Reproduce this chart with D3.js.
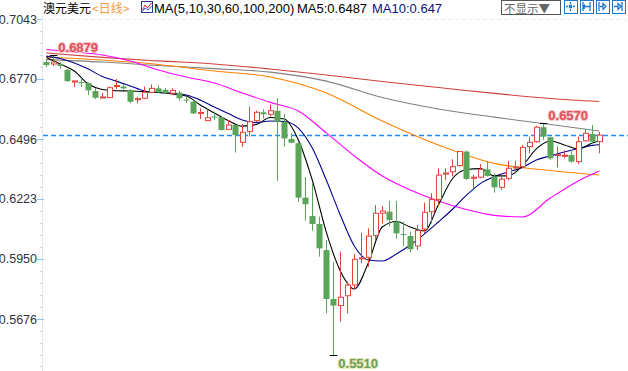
<!DOCTYPE html>
<html>
<head>
<meta charset="utf-8">
<script src="https://cdn.jsdelivr.net/npm/d3@7/dist/d3.min.js"></script>
<style>
    body { margin: 0; background: #fff; }
    svg { display: block; font-family: "Liberation Sans", Arial, sans-serif; }
</style>
</head>
<body>
<div class="main"></div>
<script>
// daily candles
const opens = [0.6847,0.6838,0.6838,0.6811,0.6756,0.6756,0.6751,0.6715,0.6683,0.6685,
    0.6736,0.6735,0.6720,0.6676,0.6682,0.6709,0.6727,0.6720,0.6705,0.6707,
    0.6676,0.6666,0.6612,0.6580,0.6599,0.6596,0.6540,0.6560,0.6481,0.6530,
    0.6580,0.6618,0.6609,0.6625,0.6575,0.6496,0.6477,0.6229,0.6145,0.6109,
    0.5990,0.5767,0.5737,0.5782,0.5831,0.5950,0.5957,0.6057,0.6158,0.6165,
    0.6119,0.6063,0.6054,0.6009,0.6086,0.6165,0.6221,0.6339,0.6347,0.6375,
    0.6439,0.6317,0.6322,0.6358,0.6325,0.6276,0.6317,0.6364,0.6370,0.6461,
    0.6484,0.6550,0.6504,0.6421,0.6420,0.6423,0.6393,0.6488,0.6519,0.6484];
const highs = [0.6861,0.6879,0.6847,0.6815,0.6761,0.6774,0.6753,0.6729,0.6706,0.6735,
    0.6770,0.6747,0.6723,0.6689,0.6735,0.6745,0.6742,0.6729,0.6728,0.6716,
    0.6689,0.6674,0.6637,0.6632,0.6621,0.6599,0.6583,0.6562,0.6565,0.6643,
    0.6625,0.6632,0.6654,0.6682,0.6610,0.6522,0.6484,0.6323,0.6297,0.6142,
    0.6036,0.5936,0.5983,0.5846,0.5972,0.6069,0.6089,0.6195,0.6191,0.6214,
    0.6214,0.6119,0.6074,0.6104,0.6206,0.6249,0.6363,0.6363,0.6404,0.6443,
    0.6443,0.6332,0.6382,0.6397,0.6340,0.6332,0.6397,0.6397,0.6469,0.6507,
    0.6556,0.6570,0.6507,0.6461,0.6446,0.6446,0.6507,0.6540,0.6560,0.6529];
const lows = [0.6824,0.6829,0.6815,0.6756,0.6733,0.6733,0.6697,0.6678,0.6681,0.6682,
    0.6724,0.6722,0.6659,0.6659,0.6678,0.6705,0.6705,0.6702,0.6704,0.6671,
    0.6659,0.6609,0.6587,0.6580,0.6583,0.6535,0.6537,0.6434,0.6460,0.6507,
    0.6575,0.6589,0.6598,0.6305,0.6461,0.6477,0.6211,0.6124,0.6078,0.5960,
    0.5702,0.5510,0.5664,0.5702,0.5811,0.5930,0.5914,0.6036,0.6112,0.6097,
    0.6041,0.6009,0.5979,0.5990,0.6067,0.6112,0.6195,0.6309,0.6325,0.6370,
    0.6309,0.6264,0.6317,0.6325,0.6252,0.6264,0.6309,0.6340,0.6363,0.6431,
    0.6479,0.6492,0.6401,0.6367,0.6410,0.6388,0.6382,0.6484,0.6477,0.6431];
const closes = [0.6833,0.6847,0.6829,0.6760,0.6761,0.6751,0.6718,0.6684,0.6688,0.6730,
    0.6740,0.6727,0.6666,0.6680,0.6709,0.6727,0.6709,0.6705,0.6717,0.6682,
    0.6672,0.6613,0.6617,0.6593,0.6594,0.6537,0.6560,0.6514,0.6527,0.6575,
    0.6618,0.6609,0.6625,0.6575,0.6499,0.6479,0.6229,0.6199,0.6109,0.5998,
    0.5767,0.5737,0.5775,0.5831,0.5948,0.5955,0.6054,0.6158,0.6168,0.6127,
    0.6066,0.6060,0.5994,0.6079,0.6162,0.6221,0.6332,0.6341,0.6370,0.6439,
    0.6314,0.6322,0.6358,0.6328,0.6276,0.6313,0.6363,0.6369,0.6458,0.6481,
    0.6550,0.6507,0.6408,0.6425,0.6422,0.6393,0.6484,0.6522,0.6484,0.6514];

const fastIdx = d3.range(0, 80, 2).concat([79]);
const ma5 = [0.6868,0.6838,0.6806,0.6747,0.6722,0.6716,0.6715,0.6712,0.6708,0.6701,
    0.6692,0.6651,0.6615,0.6580,0.6555,0.6562,0.6594,0.6587,0.6492,0.6309,
    0.6072,0.5895,0.5813,0.5931,0.6095,0.6120,0.6095,0.6077,0.6195,0.6314,
    0.6357,0.6361,0.6328,0.6328,0.6373,0.6451,0.6487,0.6469,0.6451,0.6478,0.6487];
const ma10 = [0.6874,0.6863,0.6843,0.6815,0.6781,0.6760,0.6738,0.6715,0.6708,0.6706,
    0.6697,0.6674,0.6642,0.6612,0.6583,0.6571,0.6578,0.6576,0.6546,0.6455,
    0.6309,0.6150,0.6009,0.5945,0.5940,0.5972,0.6013,0.6063,0.6118,0.6175,
    0.6239,0.6293,0.6325,0.6346,0.6366,0.6401,0.6419,0.6437,0.6453,0.6467,0.6470];
const ma30Idx = d3.range(0, 80, 4).concat([79]);
const ma30 = [0.6904,0.6893,0.6879,0.6852,0.6811,0.6779,0.6751,0.6706,0.6663,0.6624,
    0.6524,0.6419,0.6328,0.6264,0.6214,0.6175,0.6148,0.6141,0.6227,0.6305,0.6350];
const slowIdx = [0, 8, 16, 24, 32, 40, 48, 56, 64, 72, 79];
const ma60 = [0.6870,0.6856,0.6836,0.6806,0.6779,0.6706,0.6578,0.6469,0.6385,0.6353,0.6332];
const ma100 = [0.6858,0.6847,0.6831,0.6817,0.6801,0.6760,0.6685,0.6633,0.6596,0.6562,0.6533];
const ma200 = [0.6888,0.6868,0.6852,0.6838,0.6815,0.6788,0.6758,0.6731,0.6704,0.6681,0.6667];

const yTicks = [0.7043, 0.6770, 0.6496, 0.6223, 0.5950, 0.5676];
const title = "澳元美元";
const period = "<日线>";
const maTitle = "MA(5,10,30,60,100,200)";
const ma5Label = "MA5:0.6487";
const ma10Label = "MA10:0.647";

const w = 628;
const h = 371;
const red = "#e0443c";
const green = "#5aa55a";

const svg = d3.select(".main").append("svg").attr("width", w).attr("height", h);

const xScale = d3.scaleLinear().domain([0, 79]).range([46.3, 599.3]);
const yScale = d3.scaleLinear().domain([0.5676, 0.7043]).range([319, 19]);

// y axis: line, major and minor ticks
svg.append("line")
    .attr("x1", 42.5).attr("x2", 42.5).attr("y1", 16).attr("y2", h)
    .attr("stroke", "#e3e7ee");

const step = (yTicks[0] - yTicks[1]) / 5;
const minor = d3.range(-3, 31).map((k) => yTicks[0] - k * step);
svg.append("g").selectAll("line")
    .data(minor.filter((v) => yScale(v) > 14 && yScale(v) < h))
    .enter().append("line")
    .attr("x1", 40.5).attr("x2", 42.5)
    .attr("y1", (d) => Math.round(yScale(d)) + 0.5)
    .attr("y2", (d) => Math.round(yScale(d)) + 0.5)
    .attr("stroke", "#c4c8d0");

const yAxis = svg.append("g");
yAxis.selectAll("line")
    .data(yTicks).enter().append("line")
    .attr("x1", 37).attr("x2", 44)
    .attr("y1", (d) => Math.round(yScale(d)) + 0.5)
    .attr("y2", (d) => Math.round(yScale(d)) + 0.5)
    .attr("stroke", "#9cc4e8");
yAxis.selectAll("text")
    .data(yTicks).enter().append("text")
    .attr("x", 37).attr("y", (d) => yScale(d) + 4.5)
    .attr("text-anchor", "end")
    .attr("font-size", 12.5)
    .attr("fill", "#333344")
    .text((d) => d.toFixed(4));

// top separator
svg.append("line")
    .attr("x1", 42).attr("x2", w).attr("y1", 19.5).attr("y2", 19.5)
    .attr("stroke", "#ececec").attr("stroke-dasharray", "4,3");

// last price line
svg.append("line")
    .attr("x1", 43).attr("x2", w)
    .attr("y1", Math.round(yScale(closes[79])) + 0.5)
    .attr("y2", Math.round(yScale(closes[79])) + 0.5)
    .attr("stroke", "#1e8cff").attr("stroke-width", 1.5)
    .attr("stroke-dasharray", "5,3");

// moving average lines
const line = d3.line()
    .x((d) => xScale(d[0]))
    .y((d) => yScale(d[1]))
    .curve(d3.curveMonotoneX);

const maSeries = [
    { idx: slowIdx, vals: ma200, color: "#d0403c" },
    { idx: slowIdx, vals: ma100, color: "#808080" },
    { idx: slowIdx, vals: ma60, color: "#ff8000" },
    { idx: ma30Idx, vals: ma30, color: "#ff00ff" },
    { idx: fastIdx, vals: ma10, color: "#00008b" },
    { idx: fastIdx, vals: ma5, color: "#000000" },
];
svg.append("g").selectAll("path")
    .data(maSeries).enter().append("path")
    .attr("d", (s) => line(s.idx.map((i, k) => [i, s.vals[k]])))
    .attr("fill", "none")
    .attr("stroke", (s) => s.color)
    .attr("stroke-width", 1.1);

// candles
const candles = opens.map((o, i) => ({ i, o, hi: highs[i], lo: lows[i], c: closes[i] }));
const cg = svg.append("g").selectAll("g").data(candles).enter().append("g");

cg.append("line")
    .attr("x1", (d) => Math.round(xScale(d.i)) + 0.5)
    .attr("x2", (d) => Math.round(xScale(d.i)) + 0.5)
    .attr("y1", (d) => yScale(d.hi))
    .attr("y2", (d) => yScale(d.lo))
    .attr("stroke", (d) => (d.c >= d.o ? red : green));

cg.append("rect")
    .attr("x", (d) => Math.round(xScale(d.i)) - 2 + (d.c >= d.o ? 0.5 : -0.5))
    .attr("width", (d) => (d.c >= d.o ? 5 : 6))
    .attr("y", (d) => yScale(Math.max(d.o, d.c)))
    .attr("height", (d) => Math.max(1, yScale(Math.min(d.o, d.c)) - yScale(Math.max(d.o, d.c))))
    .attr("fill", (d) => (d.c >= d.o ? "#fff" : green))
    .attr("stroke", (d) => (d.c >= d.o ? red : "none"));

// high / low markers
const marks = [
    { i: 1, v: highs[1], up: true, color: "#e0505a", halo: "#f8c8c8" },
    { i: 71, v: highs[71], up: true, color: "#e0505a", halo: "#f8c8c8" },
    { i: 41, v: lows[41], up: false, color: "#6e9e5e", halo: "#e8e8b0" },
];
const mg = svg.append("g").selectAll("g").data(marks).enter().append("g");
mg.append("line")
    .attr("x1", (d) => xScale(d.i) - 3.5)
    .attr("x2", (d) => xScale(d.i) + 4)
    .attr("y1", (d) => Math.round(yScale(d.v)) + 0.5)
    .attr("y2", (d) => Math.round(yScale(d.v)) + 0.5)
    .attr("stroke", "#000");
mg.append("text")
    .attr("x", (d) => xScale(d.i) + 5)
    .attr("y", (d) => (d.up ? yScale(d.v) - 3 : yScale(d.v) + 13))
    .attr("font-size", 13)
    .attr("font-weight", "bold")
    .attr("fill", (d) => d.color)
    .attr("stroke", (d) => d.halo)
    .attr("stroke-width", 2)
    .attr("paint-order", "stroke")
    .text((d) => d.v.toFixed(4));

// header
const head = svg.append("g").attr("font-size", 13);
head.append("rect").attr("x", 42).attr("y", 0).attr("width", 460).attr("height", 15).attr("fill", "#fff");
head.append("text").attr("x", 43).attr("y", 12.5).attr("font-size", 12)
    .attr("font-family", "'Noto Sans CJK SC', sans-serif").attr("fill", "#000").text(title);
head.append("text").attr("x", 92).attr("y", 12.5).attr("font-size", 12)
    .attr("font-family", "'Noto Sans CJK SC', sans-serif").attr("fill", "#f59a3c").text(period);

const icon = head.append("g").attr("transform", "translate(141,1)");
icon.append("rect").attr("x", 0.5).attr("y", 0.5).attr("width", 11).attr("height", 11)
    .attr("fill", "#fff").attr("stroke", "#2a3a8a");
icon.append("path").attr("d", "M1.5,9 L4,4 L6.5,7 L10.5,2").attr("fill", "none").attr("stroke", "#d03030");
icon.append("path").attr("d", "M1.5,10.5 L4,7 L7,9 L10.5,5").attr("fill", "none").attr("stroke", "#3050d0");

head.append("text").attr("x", 154).attr("y", 12.5).attr("fill", "#000").text(maTitle);
head.append("text").attr("x", 297).attr("y", 12.5).attr("fill", "#000").text(ma5Label);
head.append("text").attr("x", 372).attr("y", 12.5).attr("fill", "#10107a").text(ma10Label);

// right hand controls
const ctl = svg.append("g");
ctl.append("rect").attr("x", 501.5).attr("y", 0.5).attr("width", 59).attr("height", 14)
    .attr("fill", "#fff").attr("stroke", "#555");
ctl.append("text").attr("x", 504).attr("y", 12.5)
    .attr("font-family", "'Noto Sans CJK SC', sans-serif").attr("font-size", 11.5)
    .attr("fill", "#666").text("不显示▼");

const btnX = [564, 580, 596, 612];
const glyphs = [
    "M6.5,2 V4 M6.5,9 V11 M2,6.5 H4 M9,6.5 H11 M5.5,5.5 H7.5 V7.5 H5.5 Z",
    "M3,2 V11 M10,2 V11 M3,6.5 H10 M5,4.5 L3,6.5 L5,8.5",
    "M3,2 V11 M4,6.5 H7 M7,3.5 L10,6.5 L7,9.5 Z",
    "M10,2 V11 M2,6.5 H6 M6,3.5 L9,6.5 L6,9.5 Z",
];
btnX.forEach((bx, k) => {
    const b = ctl.append("g").attr("transform", `translate(${bx},0)`);
    b.append("rect").attr("x", 0.5).attr("y", 0.5).attr("width", 13).attr("height", 13)
        .attr("fill", "#fff").attr("stroke", "#1f78d0");
    b.append("path").attr("d", glyphs[k]).attr("fill", "none").attr("stroke", "#1f78d0").attr("stroke-width", 1.3);
});
</script>
</body>
</html>
